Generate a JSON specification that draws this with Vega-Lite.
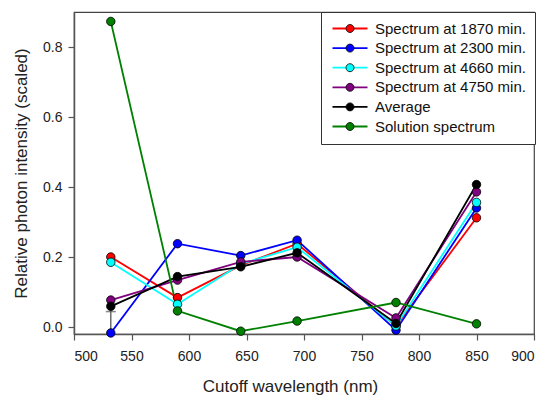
{
  "$schema": "https://vega.github.io/schema/vega-lite/v6.json",
  "width": 460,
  "height": 322,
  "autosize": {"type": "none"},
  "padding": {"left": 74, "top": 12, "right": 13, "bottom": 61},
  "background": "white",
  "config": {
    "font": "Liberation Sans",
    "view": {"stroke": "#444", "strokeWidth": 1.2},
    "axis": {
      "domainColor": "#555",
      "domainWidth": 1.5,
      "tickColor": "#555",
      "tickWidth": 1.2,
      "labelColor": "#222",
      "titleColor": "#222",
      "grid": false,
      "labelFont": "Liberation Sans",
      "titleFont": "Liberation Sans",
      "titleFontWeight": "normal"
    }
  },
  "datasets": {
    "spectra": [
      {"series": "Spectrum at 1870 min.", "wavelength": 532, "intensity": 0.200},
      {"series": "Spectrum at 1870 min.", "wavelength": 590, "intensity": 0.084},
      {"series": "Spectrum at 1870 min.", "wavelength": 645, "intensity": 0.176},
      {"series": "Spectrum at 1870 min.", "wavelength": 694, "intensity": 0.238},
      {"series": "Spectrum at 1870 min.", "wavelength": 780, "intensity": 0.002},
      {"series": "Spectrum at 1870 min.", "wavelength": 850, "intensity": 0.312},
      {"series": "Spectrum at 2300 min.", "wavelength": 532, "intensity": -0.017},
      {"series": "Spectrum at 2300 min.", "wavelength": 590, "intensity": 0.238},
      {"series": "Spectrum at 2300 min.", "wavelength": 645, "intensity": 0.204},
      {"series": "Spectrum at 2300 min.", "wavelength": 694, "intensity": 0.248},
      {"series": "Spectrum at 2300 min.", "wavelength": 780, "intensity": -0.009},
      {"series": "Spectrum at 2300 min.", "wavelength": 850, "intensity": 0.340},
      {"series": "Spectrum at 4660 min.", "wavelength": 532, "intensity": 0.185},
      {"series": "Spectrum at 4660 min.", "wavelength": 590, "intensity": 0.065},
      {"series": "Spectrum at 4660 min.", "wavelength": 645, "intensity": 0.180},
      {"series": "Spectrum at 4660 min.", "wavelength": 694, "intensity": 0.228},
      {"series": "Spectrum at 4660 min.", "wavelength": 780, "intensity": 0.003},
      {"series": "Spectrum at 4660 min.", "wavelength": 850, "intensity": 0.356},
      {"series": "Spectrum at 4750 min.", "wavelength": 532, "intensity": 0.077},
      {"series": "Spectrum at 4750 min.", "wavelength": 590, "intensity": 0.134},
      {"series": "Spectrum at 4750 min.", "wavelength": 645, "intensity": 0.186},
      {"series": "Spectrum at 4750 min.", "wavelength": 694, "intensity": 0.200},
      {"series": "Spectrum at 4750 min.", "wavelength": 780, "intensity": 0.026},
      {"series": "Spectrum at 4750 min.", "wavelength": 850, "intensity": 0.386},
      {"series": "Average", "wavelength": 532, "intensity": 0.059},
      {"series": "Average", "wavelength": 590, "intensity": 0.144},
      {"series": "Average", "wavelength": 645, "intensity": 0.172},
      {"series": "Average", "wavelength": 694, "intensity": 0.212},
      {"series": "Average", "wavelength": 780, "intensity": 0.010},
      {"series": "Average", "wavelength": 850, "intensity": 0.407},
      {"series": "Solution spectrum", "wavelength": 532, "intensity": 0.873},
      {"series": "Solution spectrum", "wavelength": 590, "intensity": 0.046},
      {"series": "Solution spectrum", "wavelength": 645, "intensity": -0.012},
      {"series": "Solution spectrum", "wavelength": 694, "intensity": 0.017},
      {"series": "Solution spectrum", "wavelength": 780, "intensity": 0.070},
      {"series": "Solution spectrum", "wavelength": 850, "intensity": 0.009}
    ],
    "errors": [
      {"wavelength": 532, "low": -0.017, "high": 0.059, "cap": 0.044}
    ]
  },
  "encoding": {
    "x": {
      "field": "wavelength",
      "type": "quantitative",
      "scale": {"domain": [500, 900], "nice": false, "zero": false},
      "axis": {
        "title": "Cutoff wavelength (nm)",
        "values": [500, 550, 600, 650, 700, 750, 800, 850, 900],
        "tickSize": 6,
        "labelFontSize": 14,
        "labelPadding": 9,
        "titleFontSize": 17,
        "titlePadding": 15,
        "titleX": 216,
        "titleAnchor": null
      }
    },
    "y": {
      "field": "intensity",
      "type": "quantitative",
      "scale": {"domain": [-0.02, 0.9], "nice": false, "zero": false},
      "axis": {
        "title": "Relative photon intensity (scaled)",
        "values": [0, 0.2, 0.4, 0.6, 0.8],
        "format": ".1f",
        "tickSize": 6,
        "labelFontSize": 14,
        "labelPadding": 6,
        "titleFontSize": 17,
        "titlePadding": 12
      }
    }
  },
  "layer": [
    {
      "data": {"name": "errors"},
      "mark": {"type": "rule", "color": "#555", "strokeWidth": 1.3},
      "encoding": {
        "y": {"field": "low", "type": "quantitative"},
        "y2": {"field": "high"}
      }
    },
    {
      "data": {"name": "errors"},
      "mark": {"type": "tick", "orient": "horizontal", "color": "#555", "size": 10, "thickness": 1.5},
      "encoding": {
        "y": {"field": "cap", "type": "quantitative"}
      }
    },
    {
      "data": {"name": "spectra"},
      "mark": {"type": "line", "strokeWidth": 1.8},
      "encoding": {
        "color": {
          "field": "series",
          "type": "nominal",
          "sort": null,
          "scale": {
            "domain": ["Spectrum at 1870 min.", "Spectrum at 2300 min.", "Spectrum at 4660 min.", "Spectrum at 4750 min.", "Average", "Solution spectrum"],
            "range": ["#ff0000", "#0000ff", "#00ffff", "#800080", "#000000", "#008000"]
          },
          "legend": {
            "orient": "none",
            "legendX": 247,
            "legendY": 0,
            "title": null,
            "symbolType": "M-1,0H6",
            "symbolSize": 100,
            "symbolStrokeWidth": 1.8,
            "labelFontSize": 15,
            "labelFont": "Liberation Sans",
            "labelColor": "#111",
            "labelLimit": 300,
            "labelOffset": 30,
            "rowPadding": 3.6,
            "padding": 9,
            "strokeColor": "#333",
            "fillColor": "white",
            "cornerRadius": 0,
            "zindex": 1
          }
        },
        "detail": {"field": "series"}
      }
    },
    {
      "data": {"name": "spectra"},
      "mark": {"type": "point", "filled": true, "size": 72, "stroke": "#000", "strokeWidth": 0.8, "opacity": 1},
      "encoding": {
        "fill": {
          "field": "series",
          "type": "nominal",
          "sort": null,
          "scale": {
            "domain": ["Spectrum at 1870 min.", "Spectrum at 2300 min.", "Spectrum at 4660 min.", "Spectrum at 4750 min.", "Average", "Solution spectrum", "other"],
            "range": ["#ff0000", "#0000ff", "#00ffff", "#800080", "#000000", "#008000", "#ffffff"]
          },
          "legend": {
            "orient": "none",
            "legendX": 247,
            "legendY": 0,
            "title": null,
            "values": ["Spectrum at 1870 min.", "Spectrum at 2300 min.", "Spectrum at 4660 min.", "Spectrum at 4750 min.", "Average", "Solution spectrum"],
            "symbolType": "M1.7,0A0.8,0.8,0,1,1,3.3,0A0.8,0.8,0,1,1,1.7,0Z",
            "symbolSize": 100,
            "symbolStrokeColor": "#000",
            "symbolStrokeWidth": 0.8,
            "symbolOpacity": 1,
            "labelFontSize": 15,
            "labelFont": "Liberation Sans",
            "labelOpacity": 0,
            "labelLimit": 300,
            "labelOffset": 30,
            "rowPadding": 3.6,
            "padding": 9,
            "zindex": 2
          }
        }
      }
    }
  ]
}
